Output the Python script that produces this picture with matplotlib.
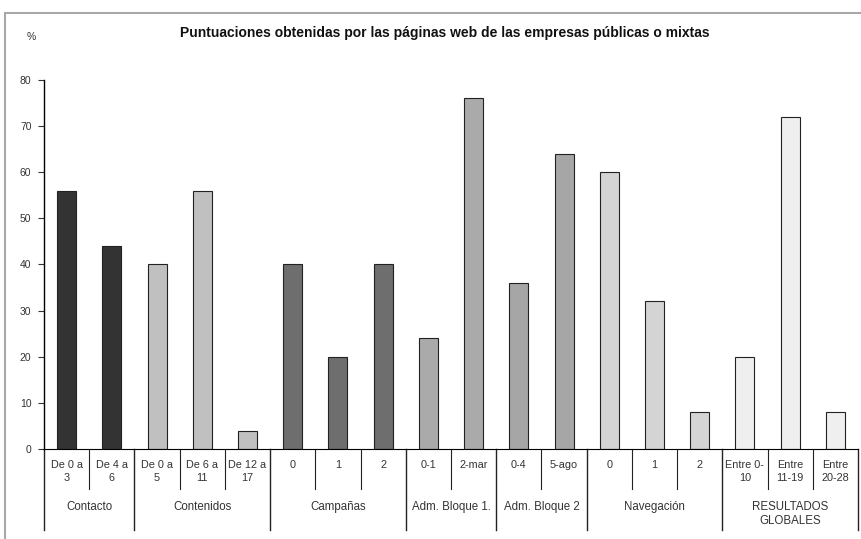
import matplotlib.pyplot as plt
from matplotlib.patches import Rectangle

plt.rcParams['font.family'] = ['Liberation Sans', 'DejaVu Sans']

labels = ['De 0 a\n3', 'De 4 a\n6',
          'De 0 a\n5', 'De 6 a\n11', 'De 12 a\n17',
          '0', '1', '2',
          '0-1', '2-mar',
          '0-4', '5-ago',
          '0', '1', '2',
          'Entre 0-\n10', 'Entre\n11-19', 'Entre\n20-28']
values = [56, 44, 40, 56, 4, 40, 20, 40, 24, 76, 36, 64, 60, 32, 8, 20, 72, 8]
groups = ['Contacto', 'Contenidos', 'Campañas', 'Adm. Bloque 1.', 'Adm. Bloque 2',
          'Navegación', 'RESULTADOS\nGLOBALES']
group_sizes = [2, 3, 3, 2, 2, 3, 3]
group_colors = ['#333333', '#c0c0c0', '#6e6e6e', '#aaaaaa', '#a6a6a6', '#d4d4d4', '#efefef']

colors = []
for c, n in zip(group_colors, group_sizes):
    colors += [c] * n

fig = plt.figure(figsize=(8.61, 5.39), dpi=100)
ax = fig.add_axes([0.0511, 0.167, 0.9454, 0.6846])

x = list(range(len(values)))
ax.bar(x, values, width=0.42, color=colors, edgecolor='#222222', linewidth=0.8)
ax.set_xlim(-0.5, len(values) - 0.5)
ax.set_ylim(0, 80)
ax.set_yticks(range(0, 81, 10))
ax.tick_params(axis='y', length=4, labelsize=7.5, colors='#333333', pad=5)
ax.set_xticks([])
for s in ['top', 'right']:
    ax.spines[s].set_visible(False)
ax.spines['left'].set_linewidth(1.0)
ax.spines['bottom'].set_linewidth(0.8)

tr = ax.get_xaxis_transform()
for i, lab in enumerate(labels):
    ax.text(i, -0.03, lab, transform=tr, ha='center', va='top', fontsize=7.8,
            linespacing=1.35, color='#333333')

# small dividers between categories, long ones between groups
edges = [0]
for n in group_sizes:
    edges.append(edges[-1] + n)
for i in range(len(values) + 1):
    xx = i - 0.5
    if i in edges:
        ax.plot([xx, xx], [0, -0.22], transform=tr, color='#222222', lw=1.0, clip_on=False)
    else:
        ax.plot([xx, xx], [0, -0.108], transform=tr, color='#222222', lw=0.8, clip_on=False)

for g, a, b in zip(groups, edges[:-1], edges[1:]):
    ax.text((a + b - 1) / 2, -0.14, g, transform=tr, ha='center', va='top', fontsize=8.3,
            linespacing=1.3, color='#333333')

fig.text(0.517, 0.938, 'Puntuaciones obtenidas por las páginas web de las empresas públicas o mixtas',
         ha='center', va='center', fontsize=10, weight='bold', color='#111111')
fig.text(0.036, 0.932, '%', ha='center', va='center', fontsize=7.5, color='#333333')

fig.patches.append(Rectangle((5 / 861, -0.1), 1.2, 1.1 - 13 / 539, transform=fig.transFigure,
                             fill=False, edgecolor='#a8a8a8', linewidth=1.5))

fig.savefig('out.png', dpi=100)
